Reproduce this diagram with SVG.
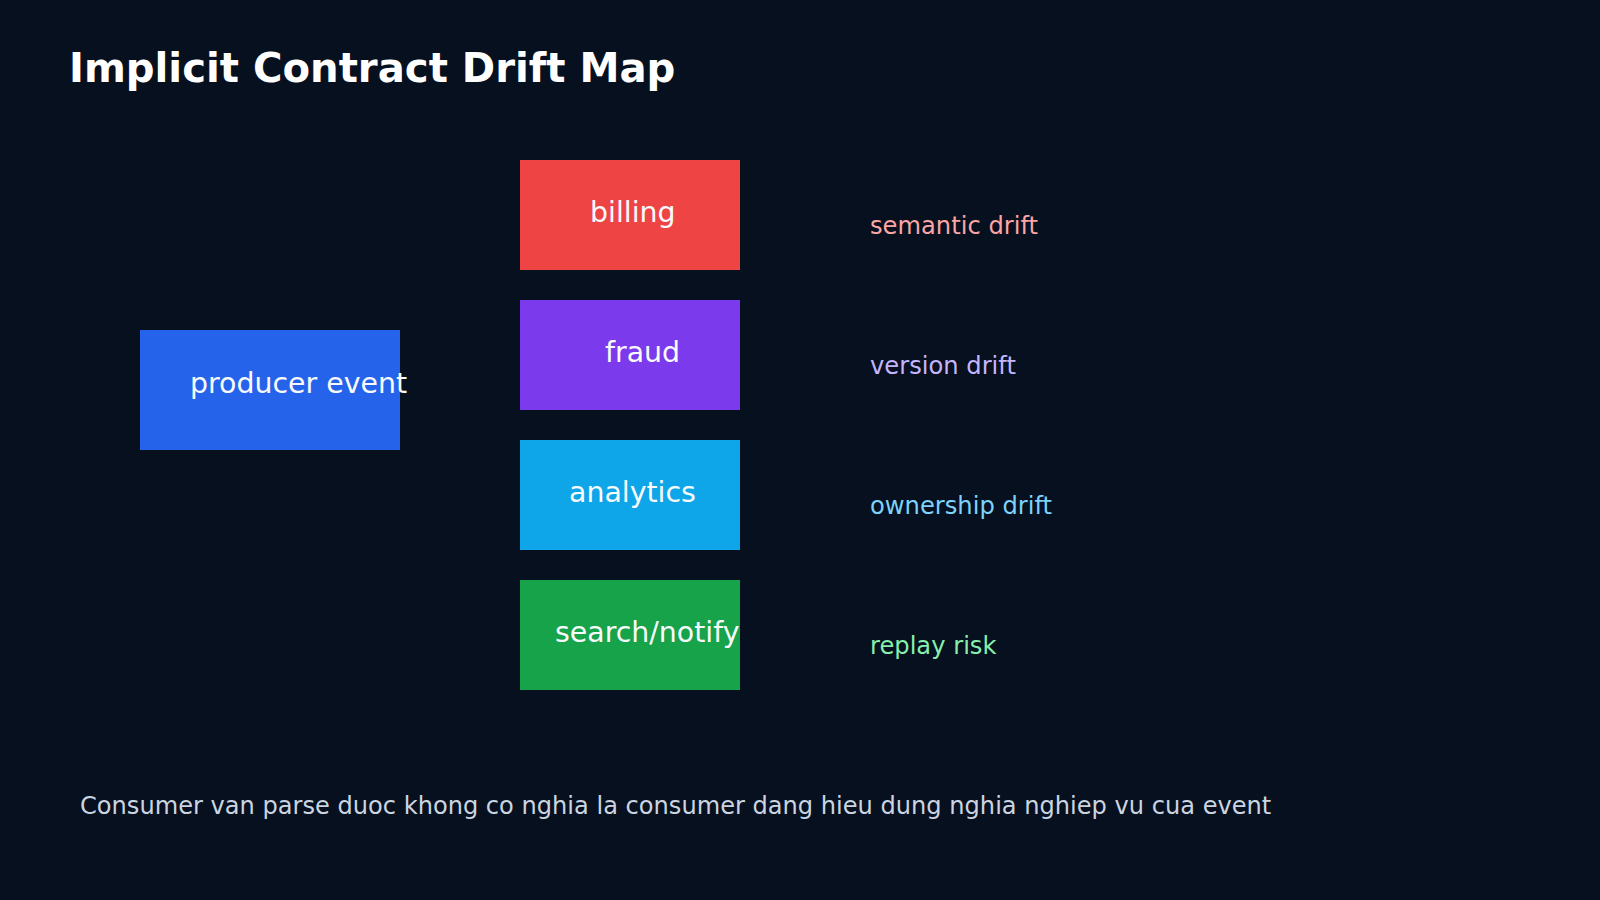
<svg xmlns="http://www.w3.org/2000/svg" width="1600" height="900" viewBox="0 0 1600 900">
<style>
text{font-family:"DejaVu Sans","Noto Sans",sans-serif;}
.title{font-size:40.2px;font-weight:bold;fill:#ffffff;}
.box{font-size:28.4px;fill:#f8fafc;}
.tag{font-size:24.2px;}
.foot{font-size:24.1px;fill:#cbd5e1;}
</style>
<rect x="0" y="0" width="1600" height="900" fill="#06101e"/>
<text class="title" x="69" y="82">Implicit Contract Drift Map</text>
<g id="connectors"></g>
<g id="producer">
<rect x="140" y="330" width="260" height="120" fill="#2563eb"/>
<text class="box" x="190" y="393">producer event</text>
</g>
<g id="billing">
<rect x="520" y="160" width="220" height="110" fill="#ef4444"/>
<text class="box" x="590" y="222">billing</text>
</g>
<g id="fraud">
<rect x="520" y="300" width="220" height="110" fill="#7c3aed"/>
<text class="box" x="605" y="362">fraud</text>
</g>
<g id="analytics">
<rect x="520" y="440" width="220" height="110" fill="#0ea5e9"/>
<text class="box" x="569" y="502">analytics</text>
</g>
<g id="search">
<rect x="520" y="580" width="220" height="110" fill="#16a34a"/>
<text class="box" x="555" y="642">search/notify</text>
</g>
<g id="labels">
<text class="tag" x="870" y="234" fill="#fca5a5">semantic drift</text>
<text class="tag" x="870" y="374" fill="#c4b5fd">version drift</text>
<text class="tag" x="870" y="514" fill="#7dd3fc">ownership drift</text>
<text class="tag" x="870" y="654" fill="#86efac">replay risk</text>
</g>
<text class="foot" x="80" y="814">Consumer van parse duoc khong co nghia la consumer dang hieu dung nghia nghiep vu cua event</text>
</svg>
